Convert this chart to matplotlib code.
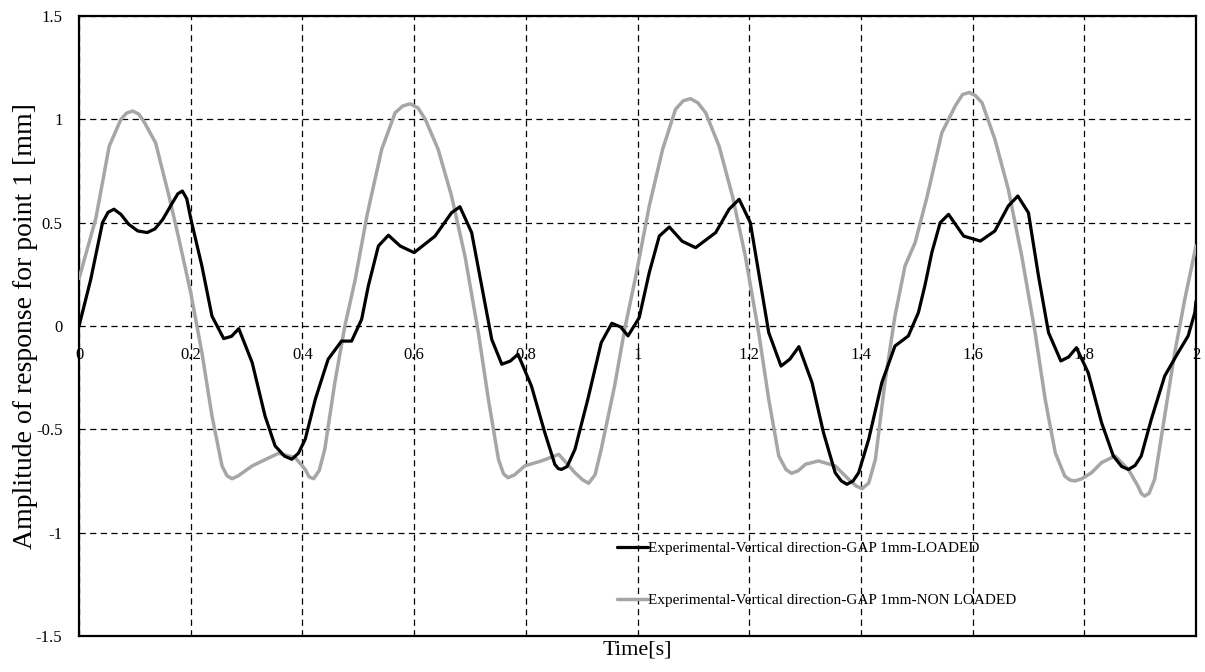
import matplotlib.pyplot as plt

plt.rcParams["font.family"] = ["Liberation Serif", "DejaVu Serif"]

# LOADED response (black)
t_loaded = [
    0.000, 0.021, 0.042, 0.052, 0.0625, 0.075, 0.089, 0.105, 0.122, 0.136,
    0.150, 0.168, 0.177, 0.185, 0.193, 0.200, 0.220, 0.238, 0.259, 0.273,
    0.286, 0.310, 0.333, 0.351, 0.368, 0.381, 0.393, 0.405, 0.423, 0.446,
    0.470, 0.488, 0.506, 0.518, 0.536, 0.554, 0.575, 0.600, 0.6375, 0.667,
    0.682, 0.703, 0.721, 0.739, 0.757, 0.772, 0.786, 0.810, 0.834, 0.852,
    0.858, 0.864, 0.874, 0.888, 0.911, 0.935, 0.954, 0.970, 0.983, 1.003,
    1.021, 1.039, 1.057, 1.080, 1.104, 1.140, 1.164, 1.182, 1.202, 1.217,
    1.235, 1.257, 1.273, 1.289, 1.3125, 1.333, 1.354, 1.365, 1.375, 1.386,
    1.396, 1.414, 1.4375, 1.461, 1.485, 1.503, 1.515, 1.527, 1.542, 1.557,
    1.584, 1.614, 1.640, 1.664, 1.681, 1.700, 1.718, 1.736, 1.758, 1.772,
    1.786, 1.807, 1.831, 1.852, 1.867, 1.879, 1.891, 1.902, 1.920, 1.944,
    1.968, 1.986, 1.998, 2.000,
]
y_loaded = [
    0.000, 0.226, 0.500, 0.550, 0.565, 0.540, 0.492, 0.460, 0.452, 0.470,
    0.516, 0.600, 0.640, 0.653, 0.615, 0.520, 0.290, 0.048, -0.061, -0.050,
    -0.013, -0.177, -0.435, -0.580, -0.630, -0.645, -0.615, -0.548, -0.355, -0.161,
    -0.073, -0.073, 0.032, 0.194, 0.387, 0.439, 0.387, 0.355, 0.435, 0.548,
    0.577, 0.452, 0.194, -0.065, -0.185, -0.170, -0.137, -0.290, -0.516, -0.670,
    -0.690, -0.694, -0.680, -0.597, -0.355, -0.081, 0.013, -0.005, -0.048, 0.040,
    0.258, 0.435, 0.479, 0.410, 0.379, 0.452, 0.565, 0.613, 0.500, 0.258,
    -0.032, -0.194, -0.160, -0.100, -0.274, -0.516, -0.710, -0.750, -0.766, -0.750,
    -0.710, -0.548, -0.274, -0.097, -0.048, 0.065, 0.200, 0.355, 0.500, 0.540,
    0.435, 0.411, 0.460, 0.581, 0.629, 0.548, 0.242, -0.032, -0.169, -0.150,
    -0.105, -0.226, -0.468, -0.629, -0.680, -0.694, -0.675, -0.629, -0.452, -0.242,
    -0.129, -0.048, 0.065, 0.120,
]

# NON LOADED response (grey)
t_nonloaded = [
    0.000, 0.030, 0.054, 0.075, 0.085, 0.096, 0.107, 0.117, 0.137, 0.161,
    0.179, 0.200, 0.220, 0.238, 0.256, 0.265, 0.274, 0.285, 0.310, 0.357,
    0.387, 0.405, 0.412, 0.420, 0.430, 0.440, 0.458, 0.476, 0.494, 0.516,
    0.542, 0.566, 0.580, 0.593, 0.607, 0.620, 0.643, 0.667, 0.691, 0.715,
    0.733, 0.751, 0.760, 0.768, 0.780, 0.798, 0.828, 0.859, 0.888, 0.902,
    0.9125, 0.924, 0.935, 0.959, 0.977, 0.997, 1.021, 1.045, 1.068, 1.082,
    1.095, 1.108, 1.122, 1.146, 1.170, 1.193, 1.217, 1.235, 1.253, 1.266,
    1.276, 1.288, 1.301, 1.324, 1.354, 1.378, 1.392, 1.402, 1.414, 1.426,
    1.443, 1.461, 1.479, 1.497, 1.518, 1.545, 1.569, 1.582, 1.594, 1.605,
    1.617, 1.640, 1.664, 1.688, 1.712, 1.730, 1.748, 1.765, 1.774, 1.783,
    1.795, 1.813, 1.831, 1.855, 1.879, 1.896, 1.902, 1.908, 1.916, 1.926,
    1.944, 1.962, 1.980, 2.000,
]
y_nonloaded = [
    0.230, 0.520, 0.870, 1.000, 1.030, 1.040, 1.025, 0.985, 0.887, 0.629,
    0.419, 0.161, -0.129, -0.435, -0.677, -0.725, -0.739, -0.725, -0.677, -0.616,
    -0.637, -0.694, -0.730, -0.739, -0.700, -0.597, -0.274, 0.000, 0.218, 0.540,
    0.855, 1.032, 1.065, 1.075, 1.055, 1.000, 0.855, 0.629, 0.339, -0.032,
    -0.355, -0.645, -0.715, -0.734, -0.720, -0.677, -0.653, -0.621, -0.710, -0.745,
    -0.761, -0.720, -0.597, -0.290, -0.016, 0.242, 0.580, 0.855, 1.048, 1.090,
    1.100, 1.080, 1.032, 0.871, 0.629, 0.339, -0.032, -0.355, -0.629, -0.695,
    -0.713, -0.700, -0.669, -0.653, -0.677, -0.742, -0.775, -0.787, -0.760, -0.645,
    -0.274, 0.048, 0.290, 0.403, 0.620, 0.935, 1.065, 1.120, 1.130, 1.115,
    1.080, 0.903, 0.661, 0.339, -0.032, -0.355, -0.613, -0.726, -0.745, -0.750,
    -0.740, -0.710, -0.661, -0.629, -0.694, -0.774, -0.810, -0.823, -0.810, -0.742,
    -0.435, -0.129, 0.129, 0.387,
]

x_ticks = [0, 0.2, 0.4, 0.6, 0.8, 1.0, 1.2, 1.4, 1.6, 1.8, 2.0]
x_tick_labels = ["0", "0.2", "0.4", "0.6", "0.8", "1", "1.2", "1.4", "1.6", "1.8", "2"]
y_ticks = [-1.5, -1, -0.5, 0, 0.5, 1, 1.5]
y_tick_labels = ["-1.5", "-1", "-0.5", "0", "0.5", "1", "1.5"]

label_loaded = "Experimental-Vertical direction-GAP 1mm-LOADED"
label_nonloaded = "Experimental-Vertical direction-GAP 1mm-NON LOADED"

fig = plt.figure(figsize=(12.05, 6.72), dpi=100)
ax = fig.add_axes([0.0656, 0.0536, 0.9269, 0.9226])

ax.plot(t_loaded, y_loaded, color="black", linewidth=2.3,
        solid_joinstyle="round", solid_capstyle="round",
        label=label_loaded, zorder=3)
ax.plot(t_nonloaded, y_nonloaded, color="#A6A6A6", linewidth=2.5,
        solid_joinstyle="round", solid_capstyle="round",
        label=label_nonloaded, zorder=2.8)

ax.set_xlim(0, 2)
ax.set_ylim(-1.5, 1.5)
ax.set_xticks(x_ticks)
ax.set_yticks(y_ticks)
ax.set_yticklabels(y_tick_labels, fontsize=12)
ax.tick_params(axis="both", length=0)
ax.tick_params(axis="y", pad=12)
ax.tick_params(axis="x", labelbottom=False)

# dashed grid sits over the x labels but under the curves
ax.set_axisbelow("line")
ax.grid(True, color="black", linestyle=(0, (5, 3.5)), linewidth=0.9)

# x labels ride along the zero line, inside the plot
for xt, lab in zip(x_ticks, x_tick_labels):
    ax.annotate(lab, (xt, 0), xytext=(0, -15), textcoords="offset points",
                ha="center", va="top", fontsize=12, zorder=1,
                annotation_clip=False)

for side in ax.spines.values():
    side.set_linewidth(1.6)
    side.set_color("black")

ax.set_xlabel("Time[s]", fontsize=16, labelpad=3)
ax.set_ylabel("Amplitude of response for point 1 [mm]", fontsize=20)
ax.yaxis.set_label_coords(-0.037, 0.5)

ax.legend(loc="upper left", bbox_to_anchor=(0.4817, 0.152), frameon=False,
          fontsize=11, handlelength=2.0, handletextpad=0.05,
          labelspacing=2.5, borderpad=0, borderaxespad=0)

fig.savefig("out.png", dpi=100, facecolor="white")
